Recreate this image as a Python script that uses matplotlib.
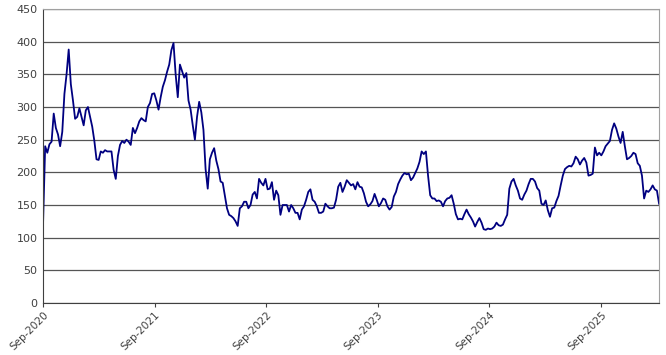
import pandas as pd
import matplotlib.pyplot as plt
import matplotlib.dates as mdates

# weekly values, Sep 2020 -> Mar 2026
vals_2020 = [120, 240, 230, 243, 247, 290, 268, 258, 240, 262, 320, 350, 388, 335, 310, 282,
             285, 298, 285, 272, 295, 300, 285, 270, 248, 220, 219, 232, 230, 234, 232, 232,
             232, 204, 190, 225, 242]
vals_2021 = [248, 245, 250, 247, 242, 268, 260, 268, 278, 283, 280, 278, 300, 306, 320, 321,
             310, 296, 315, 331, 341, 354, 365, 387, 398, 350, 315, 365, 355, 345, 352, 310,
             296, 272, 250, 285]
vals_2022a = [308, 292, 265, 205, 175, 220, 230, 237, 218, 205, 186, 184, 165, 145, 135, 133,
              130, 125, 118, 145, 148, 155, 155, 145, 150, 166, 170, 160, 190, 184, 180, 190,
              174, 175, 185, 158, 172]
vals_2022b = [165, 135, 150, 150, 150, 140, 150, 145, 138, 138, 128, 143, 148, 158, 170, 174,
              158, 155, 148, 138, 138, 140, 152, 148, 145, 145, 146, 158, 178, 184, 170, 178,
              188, 184, 180, 182]
vals_2023 = [174, 185, 178, 177, 168, 155, 148, 151, 156, 167, 158, 148, 153, 160, 158, 148,
             143, 147, 163, 170, 182, 189, 195, 199, 197, 198, 188, 192, 199, 206, 216, 232,
             228, 232, 195]
vals_2024a = [165, 160, 160, 156, 157, 155, 148, 156, 160, 161, 165, 152, 136, 128, 129, 128,
              136, 143, 136, 131, 125, 117, 124, 130, 123, 113, 112, 114, 113, 114, 117, 123,
              119, 118, 120, 128, 135]
vals_2024b = [175, 186, 190, 180, 172, 160, 158, 166, 172, 182, 190, 190, 186, 176, 172, 152,
              150, 157, 142, 132, 145, 146, 156, 164, 180, 195, 205, 208, 210, 209, 214, 224,
              220, 212, 218, 222]
vals_2025 = [215, 195, 196, 198, 238, 226, 230, 226, 232, 240, 244, 248, 265, 275, 267, 255,
             245, 262, 240, 220, 222, 225, 230, 228, 214, 210, 195, 160, 172, 170, 174, 180,
             174, 172, 152]

values = (vals_2020 + vals_2021 + vals_2022a + vals_2022b + vals_2023
          + vals_2024a + vals_2024b + vals_2025)
dates = pd.date_range("2020-09-01", periods=len(values), freq="7D")
tick_dates = pd.to_datetime(["2020-09-01", "2021-09-01", "2022-09-01",
                             "2023-09-01", "2024-09-01", "2025-09-01"])

fig = plt.figure(figsize=(6.66, 3.55), dpi=100)
ax = fig.add_axes([0.0646, 0.1465, 0.925, 0.828])

ax.plot(dates, values, color="#000080", linewidth=1.3)

ax.set_ylim(0, 450)
ax.set_yticks(range(0, 451, 50))
ax.set_xlim(dates[0], dates[-1])
ax.set_xticks(tick_dates)
ax.xaxis.set_major_formatter(mdates.DateFormatter("%b-%Y"))

ax.grid(axis="y", color="#555555", linewidth=0.9)
ax.set_axisbelow(True)
for s in ["top", "right"]:
    ax.spines[s].set_color("#a0a0a0")
for s in ["left", "bottom"]:
    ax.spines[s].set_color("#404040")

ax.tick_params(axis="y", length=0, labelsize=8, labelcolor="#404040", pad=4)
ax.tick_params(axis="x", length=3, color="#404040", labelsize=7.5, labelcolor="#404040", pad=2)
for lab in ax.get_xticklabels():
    lab.set_rotation(45)
    lab.set_ha("right")
    lab.set_rotation_mode("anchor")

fig.savefig("out.png", dpi=100)
